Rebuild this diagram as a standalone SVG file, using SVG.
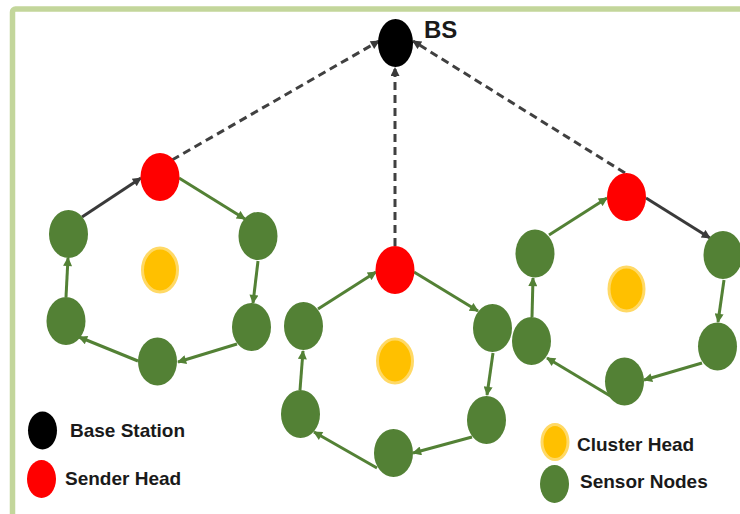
<svg xmlns="http://www.w3.org/2000/svg" width="740" height="514" viewBox="0 0 740 514">
  <style>
    .frame { fill: #ffffff; stroke: #c3d69b; stroke-width: 5.5; }
    .bs { fill: #000000; }
    .sender { fill: #ff0000; }
    .sensor { fill: #538135; }
    .cluster { fill: #ffc000; stroke: #ffd966; stroke-width: 3; }
    .link { fill: none; stroke: #538135; stroke-width: 3; marker-end: url(#head-green); }
    .link-dark { fill: none; stroke: #3a3a3a; stroke-width: 3; marker-end: url(#head-dark); }
    .uplink { fill: none; stroke: #404040; stroke-width: 3; stroke-dasharray: 8 5; marker-end: url(#head-dark); }
    .label { font-family: "Liberation Sans", Arial, sans-serif; font-weight: bold; font-size: 19px; fill: #1a1a1a; }
    .bs-label { font-family: "Liberation Sans", Arial, sans-serif; font-weight: bold; font-size: 24px; fill: #1a1a1a; }
  </style>
  <defs>
    <marker id="head-green" viewBox="0 0 10 10" refX="9" refY="5" markerWidth="11" markerHeight="9" markerUnits="userSpaceOnUse" orient="auto">
      <path d="M0,0 L10,5 L0,10 z" fill="#538135"/>
    </marker>
    <marker id="head-dark" viewBox="0 0 10 10" refX="9" refY="5" markerWidth="11" markerHeight="9" markerUnits="userSpaceOnUse" orient="auto">
      <path d="M0,0 L10,5 L0,10 z" fill="#3a3a3a"/>
    </marker>
  </defs>

  <!-- outer frame (runs past the right and bottom edges) -->
  <rect class="frame" x="12.5" y="9" width="800" height="600" rx="3"/>

  <!-- connectors -->
  <g id="connectors">
    <!-- uplinks from sender heads to the base station -->
    <line class="uplink" x1="172" y1="160" x2="379" y2="41"/>
    <line class="uplink" x1="395" y1="246" x2="395" y2="68"/>
    <line class="uplink" x1="625" y1="173" x2="413" y2="41"/>

    <!-- left ring -->
    <line class="link-dark" x1="82" y1="217" x2="141" y2="178"/>
    <line class="link" x1="179" y1="178" x2="245" y2="219"/>
    <line class="link" x1="258" y1="261" x2="253" y2="303"/>
    <line class="link" x1="237" y1="344" x2="178" y2="362"/>
    <line class="link" x1="138" y1="361" x2="79" y2="337"/>
    <line class="link" x1="66" y1="297" x2="68" y2="258"/>

    <!-- middle ring -->
    <line class="link" x1="318" y1="309" x2="376" y2="272"/>
    <line class="link" x1="414" y1="272" x2="478" y2="311"/>
    <line class="link" x1="493" y1="353" x2="487" y2="395"/>
    <line class="link" x1="472" y1="437" x2="413" y2="453"/>
    <line class="link" x1="377" y1="468" x2="314" y2="432"/>
    <line class="link" x1="300" y1="390" x2="303" y2="351"/>

    <!-- right ring -->
    <line class="link" x1="549" y1="235" x2="607" y2="198"/>
    <line class="link-dark" x1="646" y1="198" x2="710" y2="238"/>
    <line class="link" x1="724" y1="280" x2="718" y2="322"/>
    <line class="link" x1="702" y1="363" x2="644" y2="380"/>
    <line class="link" x1="612" y1="397" x2="547" y2="358"/>
    <line class="link" x1="532" y1="317" x2="533" y2="278"/>
  </g>

  <!-- base station -->
  <g id="base-station">
    <ellipse class="bs" cx="395.5" cy="43" rx="17.5" ry="24"/>
    <text class="bs-label" x="424" y="38">BS</text>
  </g>

  <!-- left cluster -->
  <g id="left-sender"><ellipse class="sender" cx="160" cy="177" rx="19.5" ry="24"/></g>
  <g id="left-cluster-head"><ellipse class="cluster" cx="160" cy="270" rx="17.5" ry="22"/></g>
  <g id="left-n1"><ellipse class="sensor" cx="68.5" cy="234" rx="19.5" ry="24"/></g>
  <g id="left-n2"><ellipse class="sensor" cx="258" cy="236" rx="19.5" ry="24"/></g>
  <g id="left-n3"><ellipse class="sensor" cx="251.5" cy="327" rx="19.5" ry="24"/></g>
  <g id="left-n4"><ellipse class="sensor" cx="157.5" cy="361.5" rx="19.5" ry="24"/></g>
  <g id="left-n5"><ellipse class="sensor" cx="66" cy="321" rx="19.5" ry="24"/></g>

  <!-- middle cluster -->
  <g id="mid-sender"><ellipse class="sender" cx="395" cy="270" rx="19.5" ry="24"/></g>
  <g id="mid-cluster-head"><ellipse class="cluster" cx="395" cy="361" rx="17.5" ry="22"/></g>
  <g id="mid-n1"><ellipse class="sensor" cx="303.5" cy="326" rx="19.5" ry="24"/></g>
  <g id="mid-n2"><ellipse class="sensor" cx="492.5" cy="328" rx="19.5" ry="24"/></g>
  <g id="mid-n3"><ellipse class="sensor" cx="486.5" cy="420" rx="19.5" ry="24"/></g>
  <g id="mid-n4"><ellipse class="sensor" cx="393.5" cy="453" rx="19.5" ry="24"/></g>
  <g id="mid-n5"><ellipse class="sensor" cx="300.5" cy="414" rx="19.5" ry="24"/></g>

  <!-- right cluster -->
  <g id="right-sender"><ellipse class="sender" cx="626.5" cy="197" rx="19.5" ry="24"/></g>
  <g id="right-cluster-head"><ellipse class="cluster" cx="626.5" cy="289" rx="17.5" ry="22"/></g>
  <g id="right-n1"><ellipse class="sensor" cx="535" cy="253.5" rx="19.5" ry="24"/></g>
  <g id="right-n2"><ellipse class="sensor" cx="723" cy="255" rx="19.5" ry="24"/></g>
  <g id="right-n3"><ellipse class="sensor" cx="717.5" cy="346.5" rx="19.5" ry="24"/></g>
  <g id="right-n4"><ellipse class="sensor" cx="624.5" cy="381.5" rx="19.5" ry="24"/></g>
  <g id="right-n5"><ellipse class="sensor" cx="531.5" cy="341" rx="19.5" ry="24"/></g>

  <!-- legend -->
  <g id="legend-base-station">
    <ellipse class="bs" cx="42.5" cy="430.5" rx="14.5" ry="19"/>
    <text class="label" x="70" y="437">Base Station</text>
  </g>
  <g id="legend-sender-head">
    <ellipse class="sender" cx="41.5" cy="479" rx="14.5" ry="19"/>
    <text class="label" x="65" y="485">Sender Head</text>
  </g>
  <g id="legend-cluster-head">
    <ellipse class="cluster" cx="555" cy="442" rx="13" ry="17.5"/>
    <text class="label" x="577" y="451">Cluster Head</text>
  </g>
  <g id="legend-sensor-nodes">
    <ellipse class="sensor" cx="554.5" cy="484" rx="14.5" ry="19"/>
    <text class="label" x="580" y="488">Sensor Nodes</text>
  </g>
</svg>
